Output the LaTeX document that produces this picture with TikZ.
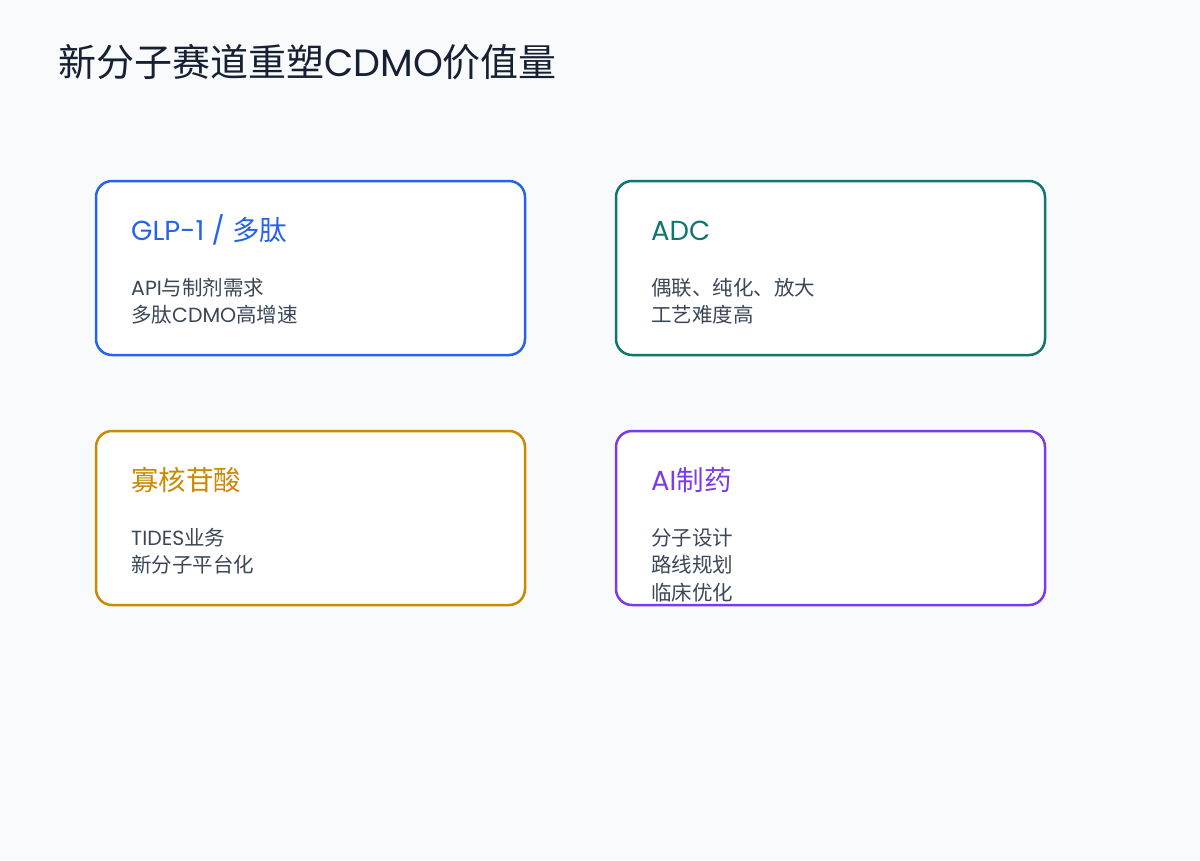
\documentclass[tikz,border=0pt]{standalone}
\usepackage{fontspec}
\setmainfont{Noto Sans CJK SC}
\newfontfamily\lat{Poppins}
\definecolor{bgc}{HTML}{F8FAFC}
\definecolor{titlec}{HTML}{172033}
\definecolor{bodyc}{HTML}{3B4657}
\definecolor{cblue}{HTML}{2563EB}
\definecolor{cteal}{HTML}{0F766E}
\definecolor{camber}{HTML}{CA8A04}
\definecolor{cpurple}{HTML}{7C3AED}
\tikzset{
  card/.style={draw=#1, line width=2.5pt, rounded corners=16pt, fill=white},
  head/.style={anchor=base west, inner sep=0pt, text=#1, font=\fontsize{27.5}{30}\selectfont},
  body/.style={anchor=base west, inner sep=0pt, text=bodyc, font=\fontsize{20.5}{27.5}\selectfont},
}
\begin{document}
\begin{tikzpicture}[x=1pt,y=-1pt]
\fill[bgc] (0,0) rectangle (1200,860);
\useasboundingbox (0,0) rectangle (1200,860);
\node[anchor=base west, inner sep=0pt, text=titlec, font=\fontsize{38}{42}\selectfont] (title) at (58,76) {新分子赛道重塑{\lat CDMO}价值量};
% cards
\draw[card=cblue] (96,181) rectangle (525,355);
\draw[card=cteal] (616,181) rectangle (1045,355);
\draw[card=camber] (96,431) rectangle (525,605);
\draw[card=cpurple] (616,431) rectangle (1045,605);
% headings
\node[head=cblue] (h1) at (131,240) {{\lat GLP-1 / }多肽};
\node[head=cteal] (h2) at (651,240) {{\lat ADC}};
\node[head=camber] (h3) at (131,490) {寡核苷酸};
\node[head=cpurple] (h4) at (651,490) {{\lat AI}制药};
% bodies
\node[body] (b1a) at (131,295) {{\lat API}与制剂需求};
\node[body] (b1b) at (131,322.5) {多肽{\lat CDMO}高增速};
\node[body] (b2a) at (651,295) {偶联、纯化、放大};
\node[body] (b2b) at (651,322.5) {工艺难度高};
\node[body] (b3a) at (131,545) {{\lat TIDES}业务};
\node[body] (b3b) at (131,572.5) {新分子平台化};
\node[body] (b4a) at (651,545) {分子设计};
\node[body] (b4b) at (651,572.5) {路线规划};
\node[body] (b4c) at (651,600) {临床优化};
\end{tikzpicture}
\end{document}
